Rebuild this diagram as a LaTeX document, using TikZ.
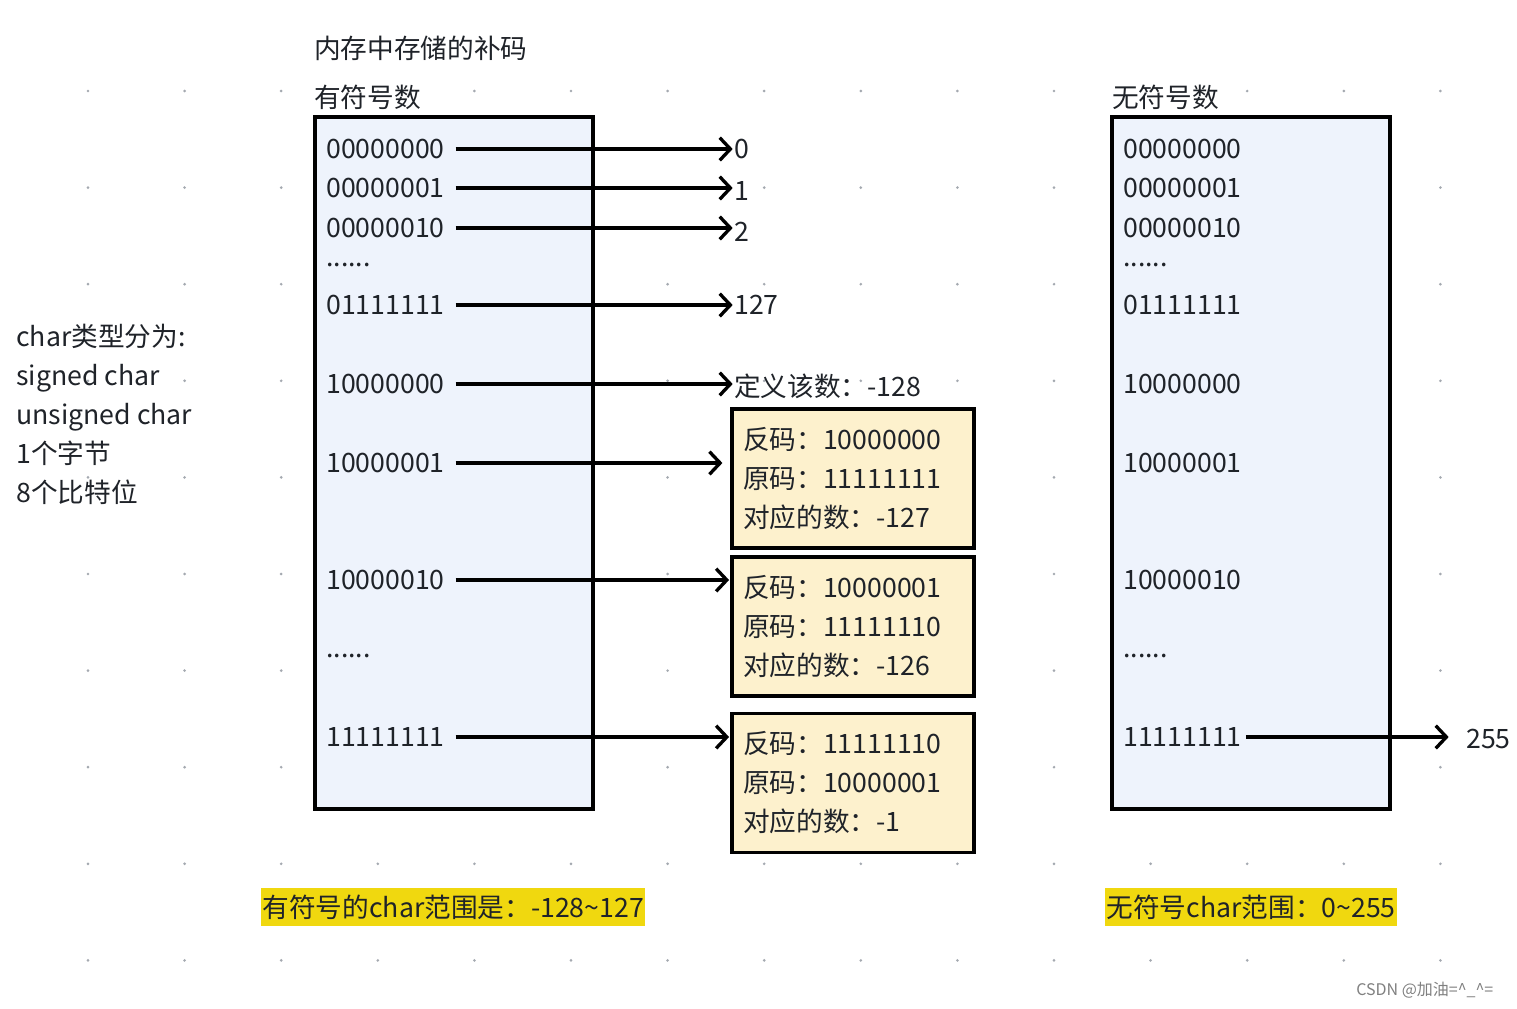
\documentclass[tikz,border=0pt]{standalone}
\usepackage{fontspec}
\setmainfont{Noto Sans CJK SC}
\usetikzlibrary{positioning,arrows.meta}
\definecolor{memblue}{HTML}{EEF3FC}
\definecolor{memyellow}{HTML}{FDF1CD}
\definecolor{markyellow}{HTML}{F0D80F}
\definecolor{inkgray}{HTML}{1F2329}
\definecolor{griddot}{HTML}{A4A9B0}
\tikzstyle{memboxstyle}=[shape=rectangle,draw,line width=2.4pt,fill=memblue,minimum width=208.5pt,minimum height=519pt]
\tikzstyle{bitsstyle}=[anchor=west,inner sep=0pt,text=inkgray]
\tikzstyle{valstyle}=[anchor=west,inner sep=0pt,text=inkgray]
\tikzstyle{notestyle}=[shape=rectangle,draw,line width=2.4pt,fill=memyellow,minimum width=181.5pt,minimum height=104.25pt,text width=165pt,align=left,inner sep=0pt,text=inkgray]
\tikzstyle{markstyle}=[anchor=west,fill=markyellow,minimum height=28.5pt,inner xsep=1pt,inner ysep=0pt,text=inkgray]
\tikzstyle{valarrow}=[line width=2.5pt,-{Straight Barb[length=8pt,width=17pt]}]
\newcommand{\sbits}[3]{ \draw (326,#2) node [style=bitsstyle] (#1) {#3}; }
\newcommand{\ubits}[3]{ \draw (1123,#2) node [style=bitsstyle] (#1) {#3}; }
\newcommand{\valnode}[3]{ \draw (734,#2) node [style=valstyle] (#1) {#3}; }
\newcommand{\valline}[2]{ \draw [style=valarrow,shorten <=8pt,shorten >=1pt] (#1.east) -- (#1.east -| #2.west); }
\newcommand{\notebox}[3]{ \draw (853,#2) node [style=notestyle] (#1) {#3}; }
\newcommand{\noteline}[3]{ \draw [style=valarrow,shorten <=8pt,shorten >=#3] (#1.east) -- (#1.east -| #2.west); }

\begin{document}
\begin{tikzpicture}[x=0.75pt,y=-0.75pt,font=\fontsize{20}{29.25}\selectfont]

\useasboundingbox[fill=white] (0,0) rectangle (1517,1008);
% dot grid
\foreach \gx in {0,...,14} \foreach \gy in {0,...,9} \fill[griddot] ({88+96.6*\gx},{91+96.6*\gy}) circle (1.1pt);

\draw (314,48) node [anchor=west,inner sep=0pt,text=inkgray] (title) {内存中存储的补码}; %
\draw (314,97) node [anchor=west,inner sep=0pt,text=inkgray] (shead) {有符号数}; %
\draw (1112,97) node [anchor=west,inner sep=0pt,text=inkgray] (uhead) {无符号数}; %
\draw (454,463) node [style=memboxstyle] (sbox) {}; %
\draw (1251,463) node [style=memboxstyle] (ubox) {}; %

\draw (16,414.5) node [anchor=west,align=left,inner sep=0pt,text=inkgray] (info) {char类型分为:\\signed char\\unsigned char\\1个字节\\8个比特位}; %

% signed column
\sbits{s0}{149}{00000000} %
\sbits{s1}{188}{00000001} %
\sbits{s2}{228}{00000010} %
\sbits{sdotsa}{265}{......} %
\sbits{s127}{305}{01111111} %
\sbits{s128}{384}{10000000} %
\sbits{s129}{463}{10000001} %
\sbits{s130}{580}{10000010} %
\sbits{sdotsb}{656}{......} %
\sbits{s255}{737}{11111111} %

\valnode{v0}{149}{0} %
\valnode{v1}{191}{1} %
\valnode{v2}{232}{2} %
\valnode{v127}{305}{127} %
\valnode{v128}{386}{定义该数：-128} %
\valline{s0}{v0} %
\valline{s1}{v1} %
\valline{s2}{v2} %
\valline{s127}{v127} %
\valline{s128}{v128} %

\notebox{na}{478.5}{反码：10000000\\原码：11111111\\对应的数：-127} %
\notebox{nb}{626.5}{反码：10000001\\原码：11111110\\对应的数：-126} %
\notebox{nc}{783}{反码：11111110\\原码：10000001\\对应的数：-1} %
\noteline{s129}{na}{6pt} %
\noteline{s130}{nb}{1pt} %
\noteline{s255}{nc}{1pt} %

% unsigned column
\ubits{u0}{149}{00000000} %
\ubits{u1}{188}{00000001} %
\ubits{u2}{228}{00000010} %
\ubits{udotsa}{265}{......} %
\ubits{u127}{305}{01111111} %
\ubits{u128}{384}{10000000} %
\ubits{u129}{463}{10000001} %
\ubits{u130}{580}{10000010} %
\ubits{udotsb}{656}{......} %
\ubits{u255}{737}{11111111} %
\draw (1466,739) node [style=valstyle] (w255) {255}; %
\draw [style=valarrow,shorten <=3pt,shorten >=13pt] (u255.east) -- (u255.east -| w255.west); %

\draw (261,907) node [style=markstyle] (srange) {有符号的char范围是：-128\textasciitilde127}; %
\draw (1105,907) node [style=markstyle] (urange) {无符号char范围：0\textasciitilde255}; %
\draw (1356,990) node [anchor=west,inner sep=0pt,text=gray,font=\fontsize{12}{14}\selectfont] (mark) {CSDN @加油=\textasciicircum\_\textasciicircum=}; %
\end{tikzpicture}
\end{document}
